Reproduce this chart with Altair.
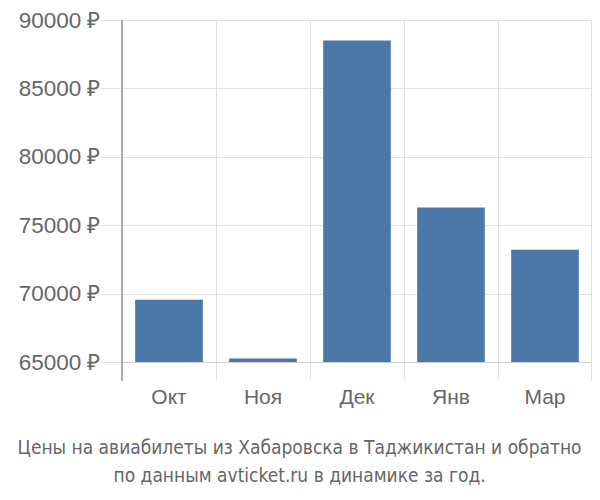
import altair as alt
import pandas as pd

months = ["Окт", "Ноя", "Дек", "Янв", "Мар"]
prices = [69550, 65250, 88500, 76300, 73200]
y_ticks = [65000, 70000, 75000, 80000, 85000, 90000]
title_lines = ["Цены на авиабилеты из Хабаровска в Таджикистан и обратно",
               "по данным avticket.ru в динамике за год."]

df = pd.DataFrame({"month": months, "price": prices})

W, H = 470, 342
FONT = "Liberation Sans"
TFONT = "'Liberation Sans Narrow', 'DejaVu Sans Condensed', 'Roboto Condensed', sans-serif"

bars = alt.Chart(df).mark_bar(width={"band": 0.72}, color="#4c78a8").encode(
    x=alt.X("month:N", sort=months, title=None,
            scale=alt.Scale(paddingInner=0, paddingOuter=0),
            axis=alt.Axis(bandPosition=0, grid=True, gridColor="#e0e0e0",
                          tickColor="#e0e0e0", tickSize=18, domainColor="#d0d0d0",
                          labelAngle=0, labelFontSize=21, labelColor="#666666",
                          labelFont=FONT, labelPadding=6)),
    y=alt.Y("price:Q", title=None,
            scale=alt.Scale(domain=[65000, 90000], zero=False, nice=False),
            axis=alt.Axis(values=y_ticks, labelExpr="datum.value + ' ₽'",
                          grid=True, gridColor="#e0e0e0", tickColor="#e0e0e0",
                          tickSize=22, domain=False, labelFontSize=22.5,
                          labelColor="#666666", labelFont=FONT, labelPadding=0)),
    y2=alt.datum(65000),
)

left_line = alt.Chart(df).mark_rule(color="#aaaaaa", strokeWidth=2).encode(
    x=alt.value(0), y=alt.value(0), y2=alt.value(H + 19))
right_line = alt.Chart(df).mark_rule(color="#e0e0e0", strokeWidth=2).encode(
    x=alt.value(W), y=alt.value(0), y2=alt.value(H + 19))

chart = alt.layer(bars, left_line, right_line).properties(
    width=W, height=H,
    autosize=alt.AutoSizeParams(type="none"),
    padding={"left": 114, "top": 12, "right": 0, "bottom": 130},
    title=alt.TitleParams(text=title_lines, orient="bottom", anchor="middle",
                          frame="bounds", dx=-6,
                          fontSize=19, fontWeight="normal", color="#666666",
                          font=TFONT, lineHeight=28, offset=32),
).configure_view(stroke=None)

chart.save("out.html", embed_options={"renderer": "svg", "actions": False})
